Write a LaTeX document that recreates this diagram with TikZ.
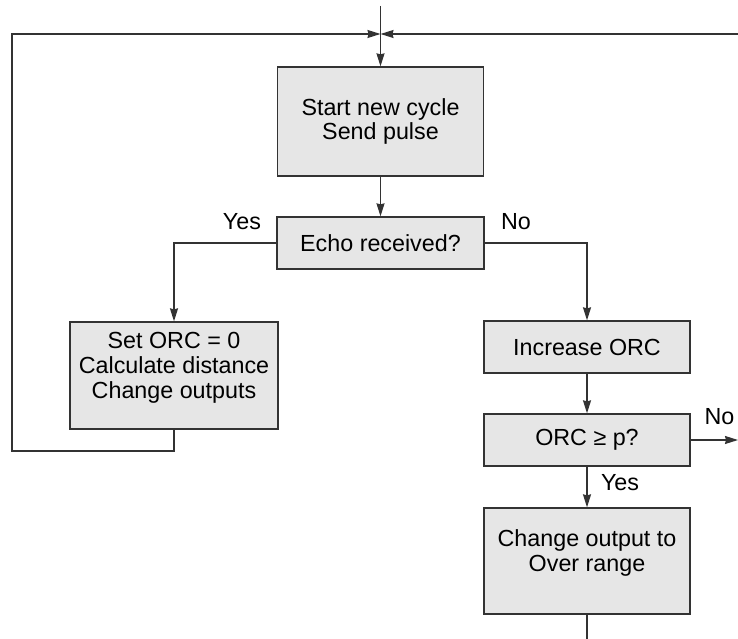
\documentclass[tikz,border=0pt]{standalone}
\usepackage{fontspec}
\setmainfont{Liberation Sans}
\usetikzlibrary{arrows.meta}
\definecolor{boxfill}{HTML}{E6E6E6}
\definecolor{edge}{HTML}{333333}
\begin{document}
\begin{tikzpicture}[x=1pt,y=-1pt,
  txt/.style={font=\fontsize{23.3}{24.8}\selectfont, align=center, inner sep=0pt, text=black},
  box/.style={draw=edge, line width=1.3pt, fill=boxfill, inner sep=0pt, txt},
  conn/.style={draw=edge, line width=1.3pt},
  arr/.style={conn, -{Stealth[length=13pt,width=8pt,inset=1pt]}}]
\useasboundingbox (0,0) rectangle (738,639);

% boxes
\node[box, minimum width=206pt, minimum height=109pt] (start) at (380.5,121.5) {Start new cycle\\Send pulse};
\node[box, minimum width=207pt, minimum height=52pt] (echo) at (380.5,243) {Echo received?};
\node[box, minimum width=208pt, minimum height=107pt] (set) at (174,375.5) {};
\node[txt, yshift=7.5pt] (settxt) at (set.center) {Set ORC = 0\\Calculate distance\\Change outputs};
\node[box, minimum width=206pt, minimum height=52pt] (inc) at (587,347) {Increase ORC};
\node[box, minimum width=206pt, minimum height=52pt] (orc) at (587,440) {ORC ≥ p?};
\node[box, minimum width=206pt, minimum height=106pt] (chg) at (587,561) {};
\node[txt, yshift=8pt] (chgtxt) at (chg.center) {Change output to\\Over range};

% free ends
\coordinate (top) at (380.5,6);
\coordinate (mg) at (380.5,34);
\coordinate (rin) at (738,34);
\coordinate (lc) at (12,34);
\coordinate (lb) at (12,451);
\coordinate (nout) at (738,440);
\coordinate (bot) at (587,639);

% connectors
\draw[arr] (top) -- (start.north);
\draw[arr] (rin) -- (mg);
\draw[arr] (set.south) |- (lb) -- (lc) -- (mg);
\draw[arr] (start.south) -- (echo.north);
\draw[arr] (echo.west) -| (set.north);
\draw[arr] (echo.east) -| (inc.north);
\draw[arr] (inc.south) -- (orc.north);
\draw[arr] (orc.east) -- (nout);
\draw[arr] (orc.south) -- (chg.north);
\draw[conn] (chg.south) -- (bot);

% labels
\node[txt] (yes1) at (242,222) {Yes};
\node[txt] (no1) at (516,222) {No};
\node[txt] (no2) at (719.5,416.5) {No};
\node[txt] (yes2) at (620,482.5) {Yes};
\end{tikzpicture}
\end{document}
